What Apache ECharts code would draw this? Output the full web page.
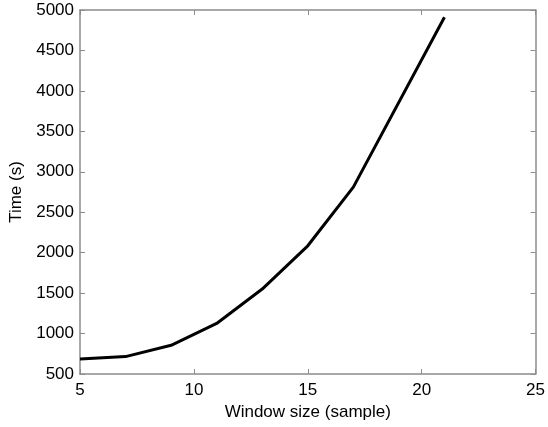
<!DOCTYPE html>
<html>
<head>
<meta charset="utf-8">
<script src="https://cdn.jsdelivr.net/npm/echarts@6/dist/echarts.min.js"></script>
<style>
  html, body { margin: 0; padding: 0; background: #fff; }
  #main { width: 548px; height: 427px; }
</style>
</head>
<body>
<div id="main"></div>
<script>
// window size vs running time
var windowSizes = [5, 7, 9, 11, 13, 15, 17, 21];
var times = [685, 715, 855, 1125, 1550, 2085, 2810, 4910];
var xTicks = [5, 10, 15, 20, 25];
var yTicks = [500, 1000, 1500, 2000, 2500, 3000, 3500, 4000, 4500, 5000];

var font = 'Liberation Sans, Arial, sans-serif';
var axisGray = '#8c8c8c';

var points = windowSizes.map(function (x, i) { return [x, times[i]]; });

function xAx(pos, showLabel) {
    return {
        type: 'value', position: pos, min: xTicks[0], max: xTicks[xTicks.length - 1], interval: 5,
        axisLine: {show: true, onZero: false, lineStyle: {color: axisGray, width: 1.5}},
        axisTick: {show: true, inside: true, length: 5, lineStyle: {color: axisGray}},
        axisLabel: {show: showLabel, color: '#000', fontSize: 17, fontFamily: font, margin: 8,
            formatter: function (v) { return String(v); }},
        splitLine: {show: false},
        name: showLabel ? 'Window size (sample)' : '',
        nameLocation: 'middle', nameGap: 30,
        nameTextStyle: {color: '#000', fontSize: 17, fontFamily: font}
    };
}
function yAx(pos, showLabel) {
    return {
        type: 'value', position: pos, min: yTicks[0], max: yTicks[yTicks.length - 1], interval: 500,
        axisLine: {show: true, onZero: false, lineStyle: {color: axisGray, width: 1.5}},
        axisTick: {show: true, inside: true, length: 5, lineStyle: {color: axisGray}},
        axisLabel: {show: showLabel, color: '#000', fontSize: 17, fontFamily: font, margin: 6,
            formatter: function (v) { return String(v); }},
        splitLine: {show: false},
        name: showLabel ? 'Time (s)' : '',
        nameLocation: 'middle', nameGap: 55, nameRotate: 90,
        nameTextStyle: {color: '#000', fontSize: 17, fontFamily: font}
    };
}

var chart = echarts.init(document.getElementById('main'));
chart.setOption({
    backgroundColor: '#fff',
    animation: false,
    grid: {left: 78, right: 10, top: 10, bottom: 53},
    xAxis: [xAx('bottom', true), xAx('top', false)],
    yAxis: [yAx('left', true), yAx('right', false)],
    series: [{
        type: 'line',
        data: points,
        showSymbol: false,
        lineStyle: {color: '#000', width: 3},
        itemStyle: {color: '#000'}
    }]
});
</script>
</body>
</html>
